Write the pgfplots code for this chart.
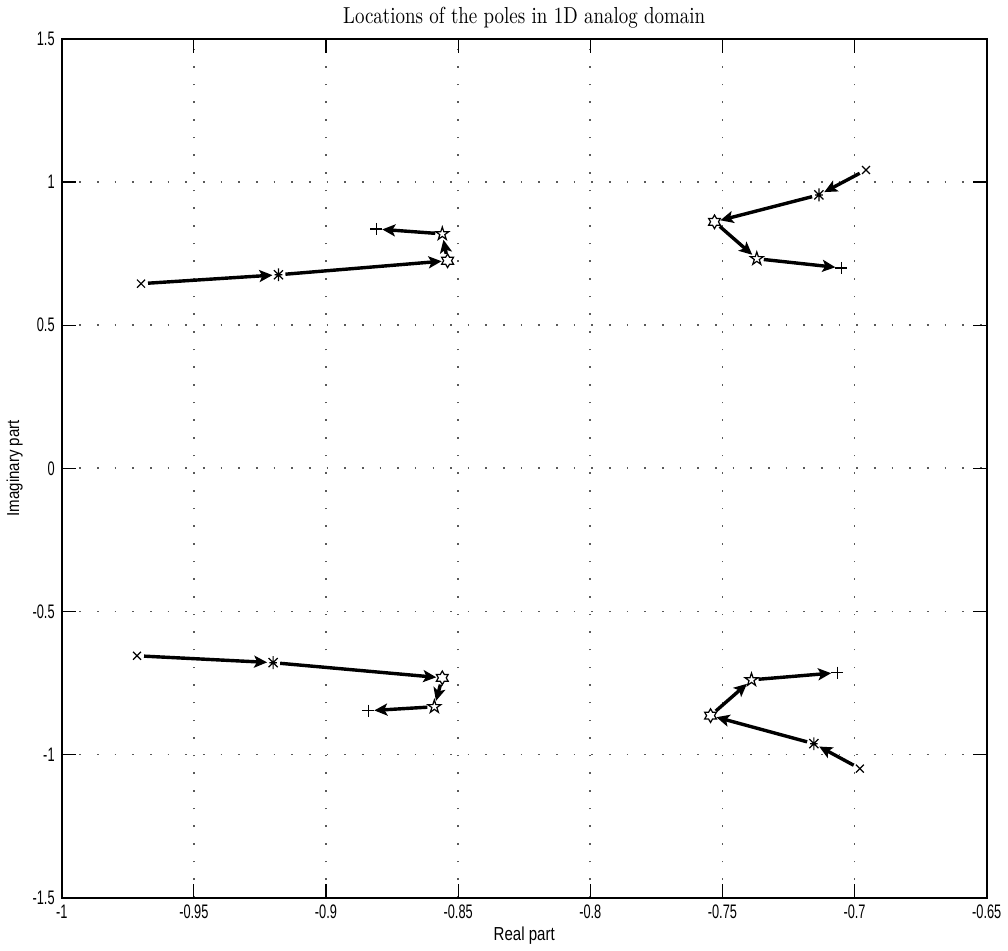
\documentclass[border=0pt]{standalone}
\usepackage{fontspec}
\usepackage{graphicx}
\usepackage{pgfplots}
\pgfplotsset{compat=1.18}
\usetikzlibrary{arrows.meta}
\newfontfamily\helv{Liberation Sans}
\newcommand\tl[1]{\scalebox{0.85}[1.3]{#1}}
\def\mpt#1#2{\pgfpoint{#1\pgfplotmarksize}{#2\pgfplotmarksize}}
\pgfdeclareplotmark{hexagram}{%
  \pgfpathmoveto{\mpt{0}{1}}%
  \pgfpathlineto{\mpt{-0.2887}{0.5}}%
  \pgfpathlineto{\mpt{-0.8660}{0.5}}%
  \pgfpathlineto{\mpt{-0.5774}{0}}%
  \pgfpathlineto{\mpt{-0.8660}{-0.5}}%
  \pgfpathlineto{\mpt{-0.2887}{-0.5}}%
  \pgfpathlineto{\mpt{0}{-1}}%
  \pgfpathlineto{\mpt{0.2887}{-0.5}}%
  \pgfpathlineto{\mpt{0.8660}{-0.5}}%
  \pgfpathlineto{\mpt{0.5774}{0}}%
  \pgfpathlineto{\mpt{0.8660}{0.5}}%
  \pgfpathlineto{\mpt{0.2887}{0.5}}%
  \pgfpathclose\pgfusepathqstroke}
\pgfdeclareplotmark{pentagram}{%
  \pgfpathmoveto{\mpt{0}{1}}%
  \pgfpathlineto{\mpt{-0.2245}{0.3090}}%
  \pgfpathlineto{\mpt{-0.9511}{0.3090}}%
  \pgfpathlineto{\mpt{-0.3633}{-0.1180}}%
  \pgfpathlineto{\mpt{-0.5878}{-0.8090}}%
  \pgfpathlineto{\mpt{0}{-0.382}}%
  \pgfpathlineto{\mpt{0.5878}{-0.8090}}%
  \pgfpathlineto{\mpt{0.3633}{-0.1180}}%
  \pgfpathlineto{\mpt{0.9511}{0.3090}}%
  \pgfpathlineto{\mpt{0.2245}{0.3090}}%
  \pgfpathclose\pgfusepathqstroke}
\pgfdeclareplotmark{ast8}{%
  \pgfpathmoveto{\mpt{0}{-1}}\pgfpathlineto{\mpt{0}{1}}%
  \pgfpathmoveto{\mpt{-0.7071}{-0.7071}}\pgfpathlineto{\mpt{0.7071}{0.7071}}%
  \pgfpathmoveto{\mpt{-0.7071}{0.7071}}\pgfpathlineto{\mpt{0.7071}{-0.7071}}%
  \pgfpathmoveto{\mpt{-0.6}{0}}\pgfpathlineto{\mpt{0.6}{0}}%
  \pgfusepathqstroke}
\begin{document}
\begin{tikzpicture}
\begin{axis}[
  scale only axis, width=461pt, height=428pt,
  xmin=-1, xmax=-0.65, ymin=-1.5, ymax=1.5,
  xtick={-1,-0.95,-0.9,-0.85,-0.8,-0.75,-0.7,-0.65},
  xticklabels={\tl{-1},\tl{-0.95},\tl{-0.9},\tl{-0.85},\tl{-0.8},\tl{-0.75},\tl{-0.7},\tl{-0.65}},
  ytick={-1.5,-1,-0.5,0,0.5,1,1.5},
  yticklabels={\tl{-1.5},\tl{-1},\tl{-0.5},\tl{0},\tl{0.5},\tl{1},\tl{1.5}},
  tick align=inside, major tick length=7pt,
  tick style={black, line width=0.6pt},
  axis line style={line width=0.8pt},
  ticklabel style={font=\helv\fontsize{7.5}{9}\selectfont},
  grid=major,
  major grid style={black!65, line width=0.8pt, dash pattern=on 0.8pt off 8pt},
  title={\scalebox{0.9}[1.1]{Locations of the poles in 1D analog domain}},
  title style={font=\fontsize{10.5}{12}\selectfont, yshift=-4pt},
  xlabel={\scalebox{1}[1.25]{Real part}}, ylabel={\scalebox{1}[1.15]{Imaginary part}},
  label style={font=\helv\fontsize{7.5}{8}\selectfont},
  xlabel style={yshift=3pt},
  ylabel style={yshift=-2pt},
]
\addplot[black, line width=1.7pt, -{Stealth[length=6.5pt,width=6pt,inset=1.5pt]},
  shorten <=3.5pt, shorten >=3pt,
  quiver={u=\thisrow{u}, v=\thisrow{v}}] table {
x y u v
-0.970 0.645 0.052 0.031
-0.918 0.676 0.064 0.049
-0.854 0.725 -0.002 0.094
-0.856 0.819 -0.025 0.017
-0.6957 1.042 -0.0178 -0.087
-0.7135 0.955 -0.0395 -0.094
-0.753 0.861 0.016 -0.129
-0.737 0.732 0.032 -0.032
-0.9715 -0.655 0.0515 -0.024
-0.920 -0.679 0.064 -0.053
-0.856 -0.732 -0.003 -0.101
-0.859 -0.833 -0.025 -0.014
-0.698 -1.049 -0.0174 0.087
-0.7154 -0.962 -0.0391 0.098
-0.7545 -0.864 0.0155 0.125
-0.739 -0.739 0.0324 0.025
};
\addplot[only marks, mark=x, mark size=2.8pt, mark options={black, line width=0.6pt}] coordinates {
(-0.970,0.645) (-0.6957,1.042) (-0.9715,-0.655) (-0.698,-1.049)};
\addplot[only marks, mark=ast8, mark size=3.2pt, mark options={black, line width=0.6pt}] coordinates {
(-0.918,0.676) (-0.7135,0.955) (-0.920,-0.679) (-0.7154,-0.962)};
\addplot[only marks, mark=hexagram, mark size=3.4pt, mark options={black, line width=0.6pt}] coordinates {
(-0.854,0.725) (-0.753,0.861) (-0.856,-0.732) (-0.7545,-0.864)};
\addplot[only marks, mark=pentagram, mark size=3.4pt, mark options={black, line width=0.6pt}] coordinates {
(-0.856,0.819) (-0.737,0.732) (-0.859,-0.833) (-0.739,-0.739)};
\addplot[only marks, mark=+, mark size=3pt, mark options={black, line width=0.6pt}] coordinates {
(-0.881,0.836) (-0.705,0.700) (-0.884,-0.847) (-0.7066,-0.714)};
\end{axis}
\end{tikzpicture}
\end{document}
